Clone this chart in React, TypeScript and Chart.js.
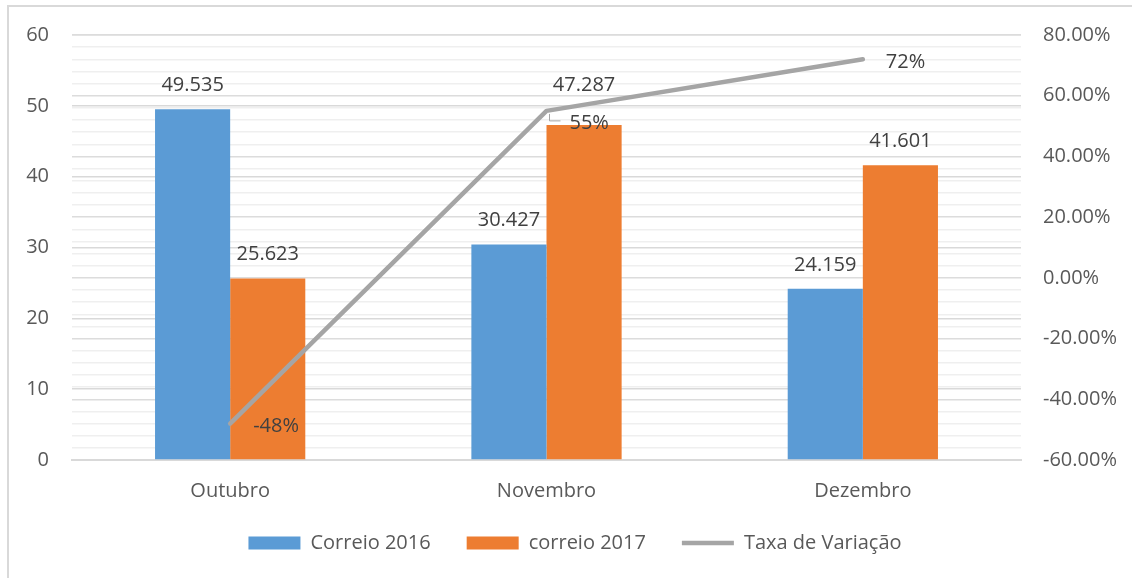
import React, { useEffect, useRef } from "react";
import { Chart, registerables } from "chart.js";

Chart.register(...registerables);

const categories = ["Outubro", "Novembro", "Dezembro"];
const correio2016 = [49.535, 30.427, 24.159];
const correio2017 = [25.623, 47.287, 41.601];
const taxaVariacao = [-48, 55, 72];
const seriesNames = ["Correio 2016", "correio 2017", "Taxa de Variação"];
const leftTicks = { min: 0, max: 60, step: 10 };
const rightTicks = { min: -60, max: 80, step: 4, labelStep: 20 };

const BLUE = "#5b9bd5";
const ORANGE = "#ed7d31";
const GRAY = "#a5a5a5";
const TEXT = "#595959";
const LABEL = "#404040";
const FONT = "'Open Sans', sans-serif";

const labelsPlugin = {
  id: "dataLabels",
  afterDatasetsDraw(chart: any) {
    const ctx = chart.ctx;
    ctx.save();
    ctx.font = `20px ${FONT}`;
    ctx.fillStyle = LABEL;
    ctx.textBaseline = "middle";
    ctx.textAlign = "center";
    const barNudge = [
      [0, 0, 0],
      [0, -16, 0],
    ];
    [correio2016, correio2017].forEach((vals, di) => {
      const meta = chart.getDatasetMeta(di);
      meta.data.forEach((el: any, j: number) => {
        ctx.fillText(vals[j].toFixed(3), el.x, el.y - 24 + barNudge[di][j]);
      });
    });
    const lm = chart.getDatasetMeta(2);
    const nudge = [0, 9, 0];
    ctx.textAlign = "left";
    lm.data.forEach((el: any, j: number) => {
      const v = taxaVariacao[j];
      ctx.fillStyle = LABEL;
      ctx.fillText(`${v}%`, el.x + 23, el.y + 3 + nudge[j]);
      if (nudge[j] > 0) {
        ctx.strokeStyle = GRAY;
        ctx.lineWidth = 1;
        ctx.beginPath();
        ctx.moveTo(el.x + 3, el.y + 3);
        ctx.lineTo(el.x + 3, el.y + 10);
        ctx.lineTo(el.x + 14, el.y + 10);
        ctx.stroke();
      }
    });
    ctx.restore();
  },
};

export default function App() {
  const ref = useRef<HTMLCanvasElement>(null);
  useEffect(() => {
    if (!ref.current) return;
    const chart = new Chart(ref.current, {
      type: "bar",
      data: {
        labels: categories,
        datasets: [
          {
            type: "bar",
            label: seriesNames[0],
            data: correio2016,
            backgroundColor: BLUE,
            yAxisID: "y",
            order: 1,
            categoryPercentage: 0.475,
            barPercentage: 1.0,
          },
          {
            type: "bar",
            label: seriesNames[1],
            data: correio2017,
            backgroundColor: ORANGE,
            yAxisID: "y",
            order: 2,
            categoryPercentage: 0.475,
            barPercentage: 1.0,
          },
          {
            type: "line",
            label: seriesNames[2],
            data: taxaVariacao,
            borderColor: GRAY,
            backgroundColor: GRAY,
            borderWidth: 4.5,
            pointRadius: 0,
            borderCapStyle: "round",
            borderJoinStyle: "round",
            yAxisID: "y1",
            order: 0,
          },
        ] as any,
      },
      options: {
        animation: false,
        responsive: false,
        maintainAspectRatio: false,
        layout: { padding: { top: 34, bottom: 15, left: 18, right: 0 } },
        plugins: {
          tooltip: { enabled: false },
          legend: {
            position: "bottom",
            labels: {
              font: { family: FONT, size: 20 },
              color: TEXT,
              usePointStyle: true,
              pointStyleWidth: 52,
              boxHeight: 13,
              padding: 36,
              generateLabels: () => [
                {
                  text: seriesNames[0],
                  fillStyle: BLUE,
                  strokeStyle: BLUE,
                  lineWidth: 0,
                  pointStyle: "rect",
                  fontColor: TEXT,
                  datasetIndex: 0,
                  hidden: false,
                },
                {
                  text: seriesNames[1],
                  fillStyle: ORANGE,
                  strokeStyle: ORANGE,
                  lineWidth: 0,
                  pointStyle: "rect",
                  fontColor: TEXT,
                  datasetIndex: 1,
                  hidden: false,
                },
                {
                  text: seriesNames[2],
                  fillStyle: GRAY,
                  strokeStyle: GRAY,
                  lineWidth: 4.5,
                  pointStyle: "line",
                  fontColor: TEXT,
                  datasetIndex: 2,
                  hidden: false,
                },
              ] as any,
            },
          },
        },
        scales: {
          x: {
            grid: { display: false },
            border: { display: true, color: "#d9d9d9", width: 2 },
            ticks: { font: { family: FONT, size: 20 }, color: TEXT, padding: 11 },
            afterFit: (s: any) => {
              s.height = 37;
            },
          },
          y: {
            position: "left",
            min: leftTicks.min,
            max: leftTicks.max,
            ticks: {
              stepSize: leftTicks.step,
              font: { family: FONT, size: 20 },
              color: TEXT,
              padding: 23,
            },
            grid: { color: "#d9d9d9", lineWidth: 1.5, drawTicks: false },
            border: { display: false },
            afterFit: (s: any) => {
              s.width = 54;
            },
          },
          y1: {
            position: "right",
            min: rightTicks.min,
            max: rightTicks.max,
            ticks: {
              stepSize: rightTicks.step,
              maxTicksLimit: 100,
              autoSkip: false,
              font: { family: FONT, size: 20 },
              color: TEXT,
              padding: 22,
              callback: (v: any) =>
                Math.round(v) % rightTicks.labelStep === 0 ? `${Number(v).toFixed(2)}%` : "",
            },
            grid: {
              drawTicks: false,
              color: (c: any) =>
                c.tick && Math.round(c.tick.value) % rightTicks.labelStep === 0 ? "#dcdcdc" : "#efefef",
              lineWidth: 1.5,
            },
            border: { display: false },
            afterFit: (s: any) => {
              s.width = 111;
            },
          },
        },
      } as any,
      plugins: [labelsPlugin],
    });
    return () => chart.destroy();
  }, []);

  return (
    <div style={{ position: "fixed", left: 0, top: 0, width: 1132, height: 578, background: "#fff" }}>
      <div
        style={{
          position: "absolute",
          left: 7,
          top: 5,
          right: 0,
          bottom: 0,
          borderTop: "2px solid #d9d9d9",
          borderLeft: "2px solid #d9d9d9",
        }}
      />
      <canvas ref={ref} width={1132} height={578} style={{ position: "absolute", left: 0, top: 0 }} />
    </div>
  );
}
